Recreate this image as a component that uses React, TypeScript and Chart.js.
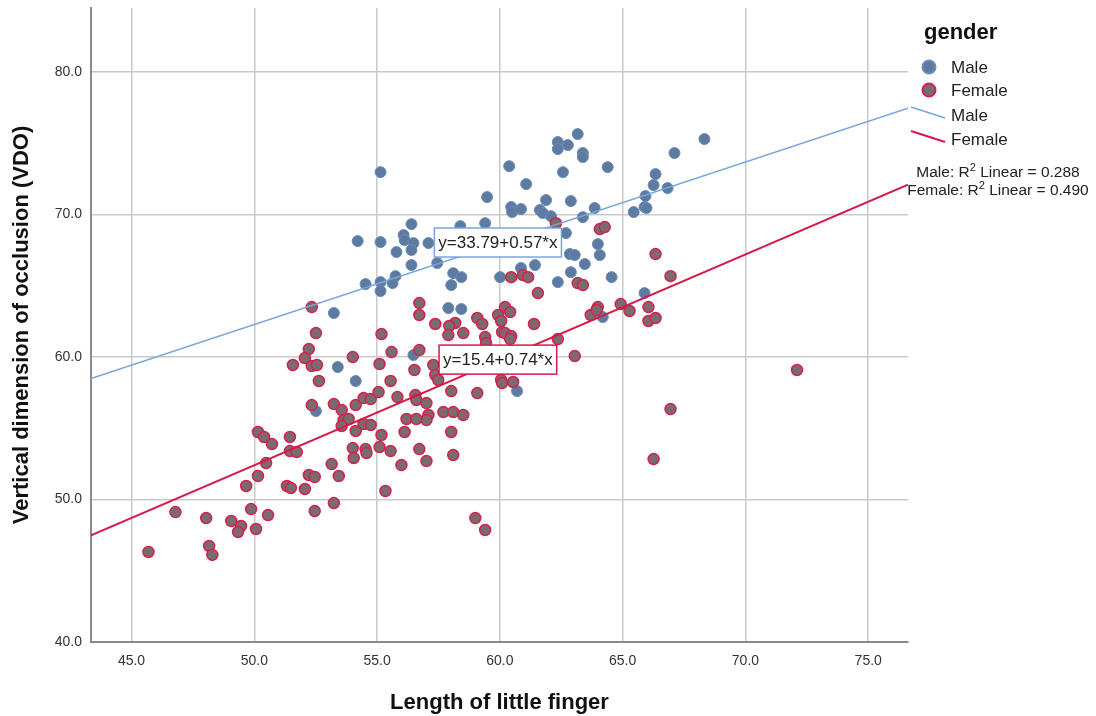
import { useEffect, useRef } from "react";
import { Chart, registerables } from "chart.js";

Chart.register(...registerables);

const FONT = '"Liberation Sans", Arial, Helvetica, sans-serif';

const xTicks = [45, 50, 55, 60, 65, 70, 75];
const yTicks = [40, 50, 60, 70, 80];
const xRange = [43.35, 76.62];
const yRange = [40, 84.5];

const groups = ["Male", "Female"];

const maleLength = [
  63.17, 62.36, 62.77, 62.36, 63.38, 63.38, 60.38, 62.57, 64.39, 55.14,
  61.07, 59.48, 61.88, 62.89, 60.46, 60.5, 60.86, 61.63, 61.75, 62.08,
  63.86, 63.38, 67.11, 66.34, 66.26, 66.83, 65.93, 65.89, 65.45, 68.33,
  65.97, 58.39, 59.4, 62.69, 63.99, 64.07, 62.85, 63.05, 63.46, 61.43,
  60.86, 62.89, 64.55, 62.36, 60.01, 58.1, 58.43, 58.02, 57.45, 56.4,
  56.08, 56.12, 56.48, 56.4, 55.79, 57.09, 55.14, 54.21, 56.4, 55.75,
  55.63, 55.14, 55.14, 54.53, 57.9, 58.43, 53.24, 56.48, 53.4, 54.13,
  52.51, 60.7, 64.19, 65.89,
];
const maleVDO = [
  75.65, 75.09, 74.88, 74.6, 74.32, 74.04, 73.4, 72.98, 73.33, 72.98,
  72.14, 71.23, 71.02, 70.95, 70.53, 70.18, 70.39, 70.32, 70.11, 69.89,
  70.46, 69.82, 74.32, 72.84, 72.07, 71.86, 71.3, 70.53, 70.18, 75.3,
  70.46, 69.19, 69.4, 68.7, 67.93, 67.16, 67.23, 67.16, 66.53, 66.46,
  66.25, 65.96, 65.61, 65.26, 65.61, 65.89, 65.61, 65.05, 66.6, 69.33,
  68.56, 68.21, 68.0, 67.51, 67.37, 68.0, 68.07, 68.14, 66.46, 65.68,
  65.19, 65.26, 64.63, 65.12, 63.44, 63.37, 63.09, 60.14, 59.3, 58.32,
  56.21, 57.61, 62.81, 64.49,
];

const femaleLength = [
  62.28, 64.07, 64.27, 66.34, 66.95, 63.17, 63.38, 60.46, 60.94, 61.15,
  61.55, 64.92, 65.28, 66.05, 66.05, 66.34, 63.99, 63.7, 63.94, 62.36,
  63.05, 72.1, 66.95, 66.26, 59.0, 59.4, 56.72, 56.72, 60.21, 60.42,
  59.93, 59.08, 59.28, 58.18, 57.94, 57.9, 58.51, 57.37, 60.05, 60.09,
  60.21, 60.46, 60.42, 61.39, 59.4, 59.44, 52.34, 52.51, 55.18, 55.59,
  56.72, 55.1, 56.52, 57.29, 57.37, 57.49, 60.05, 60.09, 60.54, 59.08,
  58.02, 55.55, 55.83, 56.56, 56.6, 57.01, 57.09, 57.01, 57.7, 58.1,
  58.51, 56.2, 56.6, 58.02, 56.12, 55.18, 56.72, 57.01, 55.99, 58.1,
  54.53, 54.57, 55.1, 55.55, 55.34, 52.22, 52.06, 51.57, 52.34, 52.55,
  54.01, 52.63, 52.34, 53.24, 53.56, 53.64, 53.84, 53.56, 54.13, 54.45,
  54.74, 54.45, 54.74, 54.13, 50.15, 50.4, 50.72, 51.45, 51.45, 51.73,
  50.48, 50.15, 49.67, 51.33, 51.49, 52.06, 52.22, 52.46, 53.15, 53.44,
  54.01, 54.05, 53.24, 52.46, 49.87, 50.56, 50.07, 49.06, 49.46, 49.34,
  48.04, 46.79, 48.16, 48.29, 45.69, 55.06,
];
const femaleVDO = [
  69.4, 68.98, 69.12, 67.23, 65.68, 65.19, 65.05, 65.61, 65.75, 65.61,
  64.49, 63.72, 63.23, 63.51, 62.53, 62.74, 63.51, 62.95, 63.3, 61.26,
  60.07, 59.09, 56.35, 52.84, 48.7, 47.86, 63.79, 62.95, 63.51, 63.16,
  62.95, 62.74, 62.32, 62.39, 62.18, 61.54, 61.68, 62.32, 62.53, 61.75,
  61.68, 61.47, 61.26, 62.32, 61.4, 60.98, 63.51, 61.68, 61.61, 60.35,
  60.49, 59.51, 59.09, 59.44, 58.74, 58.39, 58.39, 58.18, 58.25, 57.47,
  57.61, 58.32, 57.19, 57.33, 56.98, 56.77, 55.93, 55.58, 56.14, 56.14,
  55.93, 55.65, 55.65, 54.74, 54.74, 54.53, 53.54, 52.7, 52.42, 53.12,
  53.54, 53.26, 53.68, 53.4, 50.6, 60.56, 59.93, 59.44, 59.37, 59.44,
  60.0, 58.32, 56.63, 56.7, 56.28, 55.58, 55.65, 55.16, 56.63, 57.12,
  57.05, 55.3, 55.23, 54.81, 54.74, 54.39, 53.89, 54.39, 53.4, 53.33,
  52.56, 51.65, 50.95, 50.95, 50.81, 50.74, 51.72, 51.58, 52.49, 51.65,
  53.61, 52.91, 49.75, 49.19, 49.33, 48.91, 47.93, 48.49, 48.14, 47.72,
  48.7, 49.12, 46.74, 46.11, 46.32, 57.54,
];

// linear fits: male, female
const fitIntercepts = [33.79, 15.4];
const fitSlopes = [0.57, 0.74];
const fitR2 = ["0.288", "0.490"];
// where the equation labels sit (data coordinates)
const labelX = [59.92, 59.92];
const labelY = [68.04, 59.82];

const MALE_FILL = "#5d7aa0";
const MALE_EDGE = "#6c8bb5";
const FEMALE_FILL = "#7b6a6f";
const FEMALE_EDGE = "#d6214c";
const MALE_LINE = "#78a5dd";
const FEMALE_LINE = "#d41a48";
const lineColors = [MALE_LINE, FEMALE_LINE];

const overlayPlugin = {
  id: "overlay",
  afterDatasetsDraw(chart: any) {
    const ctx: CanvasRenderingContext2D = chart.ctx;
    const xs = chart.scales.x;
    const ys = chart.scales.y;
    ctx.save();
    // equation boxes
    for (let i = 0; i < 2; i++) {
      const text = `y=${fitIntercepts[i]}+${fitSlopes[i]}*x`;
      ctx.font = `17px ${FONT}`;
      const w = ctx.measureText(text).width + 8;
      const h = 29;
      const cx = xs.getPixelForValue(labelX[i]);
      const cy = ys.getPixelForValue(labelY[i]);
      ctx.fillStyle = "#ffffff";
      ctx.fillRect(cx - w / 2, cy - h / 2, w, h);
      ctx.strokeStyle = lineColors[i];
      ctx.lineWidth = 1.5;
      ctx.strokeRect(cx - w / 2, cy - h / 2, w, h);
      ctx.fillStyle = "#222222";
      ctx.textAlign = "center";
      ctx.textBaseline = "middle";
      ctx.fillText(text, cx, cy + 1);
    }

    // legend
    ctx.textAlign = "left";
    ctx.textBaseline = "middle";
    ctx.fillStyle = "#111111";
    ctx.font = `bold 22px ${FONT}`;
    ctx.fillText("gender", 924, 33);

    const dotFill = [MALE_FILL, FEMALE_FILL];
    const dotEdge = [MALE_EDGE, FEMALE_EDGE];
    const dotY = [67, 90];
    for (let i = 0; i < 2; i++) {
      ctx.beginPath();
      ctx.arc(929, dotY[i], 6.5, 0, Math.PI * 2);
      ctx.fillStyle = dotFill[i];
      ctx.fill();
      ctx.lineWidth = 2;
      ctx.strokeStyle = dotEdge[i];
      ctx.stroke();
      ctx.fillStyle = "#222222";
      ctx.font = `17px ${FONT}`;
      ctx.fillText(groups[i], 951, dotY[i] + 1);
    }
    const lineY = [115, 139];
    for (let i = 0; i < 2; i++) {
      ctx.beginPath();
      ctx.moveTo(911, lineY[i] - 8);
      ctx.lineTo(945, lineY[i] + 3);
      ctx.strokeStyle = lineColors[i];
      ctx.lineWidth = i === 0 ? 1.5 : 2;
      ctx.stroke();
      ctx.fillStyle = "#222222";
      ctx.font = `17px ${FONT}`;
      ctx.fillText(groups[i], 951, lineY[i] + 1);
    }

    // R² notes
    const r2Y = [172, 190];
    for (let i = 0; i < 2; i++) {
      const big = `15.5px ${FONT}`;
      const small = `11px ${FONT}`;
      const a = `${groups[i]}: R`;
      const b = "2";
      const c = ` Linear = ${fitR2[i]}`;
      ctx.font = big;
      const wa = ctx.measureText(a).width;
      const wc = ctx.measureText(c).width;
      ctx.font = small;
      const wb = ctx.measureText(b).width;
      let x = 998 - (wa + wb + wc) / 2;
      const base = r2Y[i] + 5;
      ctx.textBaseline = "alphabetic";
      ctx.fillStyle = "#222222";
      ctx.font = big;
      ctx.fillText(a, x, base);
      x += wa;
      ctx.font = small;
      ctx.fillText(b, x, base - 6);
      x += wb;
      ctx.font = big;
      ctx.fillText(c, x, base);
    }
    ctx.restore();
  },
};

export default function App() {
  const canvasRef = useRef<HTMLCanvasElement | null>(null);

  useEffect(() => {
    document.body.style.margin = "0";
    const canvas = canvasRef.current;
    if (!canvas) return;

    const malePts = maleLength.map((x, i) => ({ x, y: maleVDO[i] }));
    const femalePts = femaleLength.map((x, i) => ({ x, y: femaleVDO[i] }));
    const fitLine = (i: number) =>
      [xRange[0], xRange[1]].map((x) => ({ x, y: fitIntercepts[i] + fitSlopes[i] * x }));

    const chart = new Chart(canvas, {
      type: "scatter",
      data: {
        datasets: [
          {
            label: "Male fit",
            data: fitLine(0),
            showLine: true,
            borderColor: MALE_LINE,
            borderWidth: 1.5,
            pointRadius: 0,
            fill: false,
          },
          {
            label: "Female fit",
            data: fitLine(1),
            showLine: true,
            borderColor: FEMALE_LINE,
            borderWidth: 2,
            pointRadius: 0,
            fill: false,
          },
          {
            label: "Female",
            data: femalePts,
            backgroundColor: FEMALE_FILL,
            borderColor: FEMALE_EDGE,
            borderWidth: 1.5,
            pointRadius: 5.5,
          },
          {
            label: "Male",
            data: malePts,
            backgroundColor: MALE_FILL,
            borderColor: MALE_EDGE,
            borderWidth: 1,
            pointRadius: 5.5,
          },
        ],
      },
      options: {
        responsive: false,
        animation: false,
        events: [],
        devicePixelRatio: 1,
        layout: { padding: { left: 0, top: 8, right: 188, bottom: 0 } },
        plugins: {
          legend: { display: false },
          tooltip: { enabled: false },
        },
        scales: {
          x: {
            type: "linear",
            min: xRange[0],
            max: xRange[1],
            afterBuildTicks: (scale: any) => {
              scale.ticks = xTicks.map((v) => ({ value: v }));
            },
            afterFit: (scale: any) => {
              scale.height = 74;
              scale.paddingLeft = 0;
              scale.paddingRight = 0;
            },
            ticks: {
              padding: 11,
              color: "#333333",
              font: { family: FONT, size: 14 },
              callback: (v: any) => Number(v).toFixed(1),
            },
            grid: { color: "#c9c9c9", lineWidth: 1.5, drawTicks: false },
            border: { color: "#8a8a8a", width: 2 },
            title: {
              display: true,
              text: "Length of little finger",
              color: "#111111",
              font: { family: FONT, size: 22, weight: "bold" },
              padding: { top: 0, bottom: 0 },
            },
          },
          y: {
            type: "linear",
            min: yRange[0],
            max: yRange[1],
            afterBuildTicks: (scale: any) => {
              scale.ticks = yTicks.map((v) => ({ value: v }));
            },
            afterFit: (scale: any) => {
              scale.width = 91;
              scale.paddingTop = 0;
              scale.paddingBottom = 0;
            },
            ticks: {
              padding: 9,
              color: "#333333",
              font: { family: FONT, size: 14 },
              callback: (v: any) => Number(v).toFixed(1),
            },
            grid: { color: "#c9c9c9", lineWidth: 1.5, drawTicks: false },
            border: { color: "#8a8a8a", width: 2 },
            title: {
              display: true,
              text: "Vertical dimension of occlusion (VDO)",
              color: "#111111",
              font: { family: FONT, size: 22, weight: "bold" },
              padding: { top: 9, bottom: 0 },
            },
          },
        },
      },
      plugins: [overlayPlugin],
    } as any);

    return () => chart.destroy();
  }, []);

  return (
    <div style={{ position: "absolute", left: 0, top: 0, width: 1096, height: 716, background: "#fff" }}>
      <canvas ref={canvasRef} width={1096} height={716} style={{ width: 1096, height: 716, display: "block" }} />
    </div>
  );
}
